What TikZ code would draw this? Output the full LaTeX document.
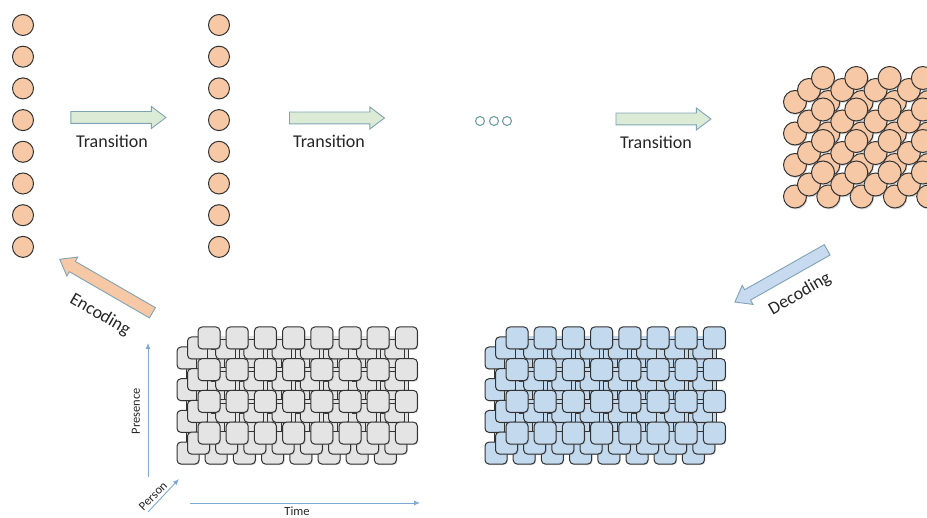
\documentclass[tikz,border=0pt]{standalone}
\usepackage{fontspec}
\setmainfont{Carlito}
\usetikzlibrary{shapes.arrows,shadows,arrows.meta}
\definecolor{peach}{HTML}{F7C8A5}
\definecolor{mint}{HTML}{DCEBD6}
\definecolor{arrowedge}{HTML}{7FA3B5}
\definecolor{decblue}{HTML}{C8DAF0}
\definecolor{axisblue}{HTML}{7FAAD6}
\definecolor{sqgray}{HTML}{E4E4E4}
\definecolor{sqblue}{HTML}{C2D9EE}
\definecolor{edge}{HTML}{333333}
\definecolor{ink}{HTML}{262626}
\definecolor{dotedge}{HTML}{6F9FA5}
\begin{document}
\begin{tikzpicture}[x=1pt,y=-1pt,
  ball/.style={circle,draw=edge,fill=peach,line width=1pt,minimum size=21pt,inner sep=0pt},
  bigball/.style={circle,draw=edge,fill=peach,line width=1pt,minimum size=23pt,inner sep=0pt,
    drop shadow={shadow xshift=1pt,shadow yshift=-1.5pt,opacity=0.3}},
  fatarrow/.style={single arrow,draw=arrowedge,line width=0.9pt,
    single arrow head extend=5pt,single arrow tip angle=74,single arrow head indent=0pt,
    inner xsep=0pt,inner ysep=5.5pt},
  lbl/.style={font=\fontsize{18}{20}\selectfont,text=ink,inner sep=0pt},
  smalllbl/.style={font=\fontsize{12.5}{14}\selectfont,text=ink,inner sep=0pt},
  axis/.style={draw=axisblue,line width=0.9pt,-{Latex[length=6pt,width=5pt]}},
  sq/.style={draw=edge,rounded corners=4pt,minimum size=22pt,inner sep=0pt,line width=1pt,
    drop shadow={shadow xshift=1pt,shadow yshift=-1pt,opacity=0.3}},
  bar/.style={draw=edge,line width=0.9pt,double distance=3pt},
  dot/.style={circle,draw=dotedge,fill=white,line width=1.1pt,minimum size=9pt,inner sep=0pt},
]
\path[use as bounding box] (0,0) rectangle (927,518);

% columns of balls
\foreach \j in {0,...,7} {
  \node[ball] (a\j) at (23,{25+31.7*\j}) {};
  \node[ball] (b\j) at (219,{25+31.7*\j}) {};
}

% transition arrows
\node[fatarrow,fill=mint,minimum height=95pt] (t1) at (114.5,117.5) {};
\node[fatarrow,fill=mint,minimum height=95pt] (t2) at (333,118) {};
\node[fatarrow,fill=mint,minimum height=95pt] (t3) at (659.5,119) {};
\node[lbl] (t1l) at (112,141) {Transition};
\node[lbl] (t2l) at (329,141) {Transition};
\node[lbl] (t3l) at (656,142) {Transition};

% dots
\node[dot] (d1) at (480,121) {};
\node[dot] (d2) at (494,121) {};
\node[dot] (d3) at (507,121) {};

% packed spheres
\begin{scope}
\clip (0,0) rectangle (927,518);
\foreach \k in {2,1,0}
  \foreach \i in {0,...,4}
    \foreach \j in {0,...,3}
      \node[bigball] (s\k-\i-\j) at ({823+33.3*\i-14*\k},{78+31.5*\j+12*\k}) {};
\end{scope}

% decoding / encoding arrows
\node[fatarrow,fill=decblue,draw=arrowedge,minimum height=106pt,rotate=209.5] (dec) at (784.5,274) {};
\node[lbl,rotate=30] (decl) at (800,294) {Decoding};
\node[fatarrow,fill=peach,draw=arrowedge,minimum height=107pt,rotate=150] (enc) at (109.5,288) {};
\node[lbl,rotate=-30] (encl) at (100,315) {Encoding};

% grids
\foreach \ox/\col in {0/sqgray,308/sqblue} {
  \foreach \k in {2,1,0} {
    \foreach \i in {0,...,7}
      \foreach \j in {0,...,3}
        \coordinate (c\ox-\k-\i-\j) at ({209+\ox+28.2*\i-10.5*\k},{338+31.7*\j+10*\k});
    \foreach \i in {0,...,7}
      \foreach \j in {0,...,3} {
        \pgfmathtruncatemacro\ni{\i+1}
        \pgfmathtruncatemacro\nj{\j+1}
        \ifnum\i<7 \draw[bar,double=\col] (c\ox-\k-\i-\j) -- (c\ox-\k-\ni-\j); \fi
        \ifnum\j<3 \draw[bar,double=\col] (c\ox-\k-\i-\j) -- (c\ox-\k-\i-\nj); \fi
      }
    \foreach \i in {0,...,7}
      \foreach \j in {0,...,3}
        \node[sq,fill=\col] (q\ox-\k-\i-\j) at (c\ox-\k-\i-\j) {};
  }
}

% axes
\coordinate (pres0) at (148,477);
\coordinate (pres1) at (148,343);
\draw[axis] (pres0) -- (pres1);
\node[smalllbl,rotate=90] (presl) at (136,411) {Presence};
\coordinate (pers0) at (148,512);
\coordinate (pers1) at (179,479);
\draw[axis] (pers0) -- (pers1);
\node[smalllbl,rotate=45] (persl) at (153,496) {Person};
\coordinate (time0) at (190,503);
\coordinate (time1) at (420,503);
\draw[axis] (time0) -- (time1);
\node[smalllbl] (timel) at (297,511) {Time};
\end{tikzpicture}
\end{document}
